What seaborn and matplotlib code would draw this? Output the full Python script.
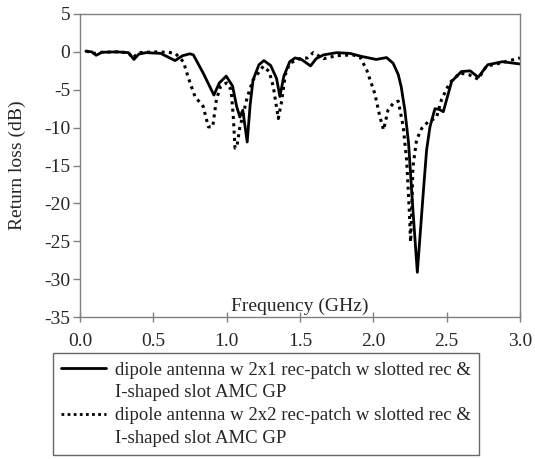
import matplotlib
matplotlib.use("Agg")
import matplotlib.pyplot as plt
import seaborn as sns
import pandas as pd
from matplotlib.lines import Line2D

# ---- data ----
freq_2x1 = [0.04, 0.08, 0.11, 0.15, 0.25, 0.33, 0.368, 0.40, 0.45, 0.55, 0.648, 0.70, 0.75,
            0.773, 0.84, 0.913, 0.95, 0.997, 1.04, 1.068, 1.09, 1.11, 1.14, 1.16, 1.18, 1.22,
            1.254, 1.30, 1.34, 1.363, 1.39, 1.43, 1.466, 1.51, 1.572, 1.61, 1.66, 1.75, 1.84,
            1.92, 2.02, 2.09, 2.135, 2.17, 2.19, 2.215, 2.24, 2.27, 2.30, 2.34, 2.363, 2.386,
            2.42, 2.45, 2.477, 2.534, 2.60, 2.66, 2.715, 2.78, 2.88, 3.0]
rl_2x1 = [0.1, 0.0, -0.45, -0.05, 0.0, -0.1, -1.0, -0.3, -0.1, -0.2, -1.15, -0.5, -0.25,
          -0.4, -2.8, -5.7, -4.1, -3.2, -4.5, -7.2, -8.6, -7.7, -11.9, -7.0, -3.7, -1.7,
          -1.15, -1.8, -3.5, -5.9, -3.2, -1.3, -0.8, -1.0, -1.85, -0.9, -0.4, -0.1, -0.2,
          -0.6, -1.0, -0.75, -1.5, -3.0, -4.6, -7.7, -12.0, -20.9, -29.1, -18.7, -13.0, -9.9,
          -7.5, -7.6, -7.9, -3.9, -2.6, -2.5, -3.35, -1.7, -1.3, -1.6]

freq_2x2 = [0.04, 0.10, 0.15, 0.25, 0.33, 0.36, 0.40, 0.50, 0.60, 0.65, 0.705, 0.74, 0.784,
            0.84, 0.875, 0.905, 0.93, 0.96, 1.0, 1.03, 1.045, 1.057, 1.07, 1.09, 1.11, 1.14,
            1.18, 1.25, 1.29, 1.318, 1.352, 1.375, 1.40, 1.43, 1.50, 1.55, 1.59, 1.66, 1.75,
            1.86, 1.91, 1.955, 2.01, 2.045, 2.07, 2.10, 2.135, 2.17, 2.204, 2.227, 2.245, 2.254,
            2.262, 2.27, 2.295, 2.33, 2.375, 2.43, 2.465, 2.52, 2.59, 2.65, 2.715, 2.77, 2.86, 3.0]
rl_2x2 = [0.1, -0.2, -0.05, 0.0, -0.1, -0.8, -0.1, 0.0, -0.05, -0.2, -1.3, -3.5, -5.9,
          -7.2, -9.9, -9.9, -6.3, -4.5, -4.1, -5.0, -8.5, -12.7, -12.5, -9.9, -8.5, -6.0,
          -3.7, -1.9, -2.6, -4.6, -8.8, -6.5, -3.0, -1.5, -0.9, -0.8, -0.1, -0.9, -0.5,
          -0.4, -0.7, -2.4, -5.5, -8.6, -10.3, -7.7, -6.8, -6.5, -9.9, -14.3, -20.9, -25.1,
          -21.0, -15.2, -11.6, -10.1, -9.2, -8.7, -6.3, -4.1, -2.8, -3.0, -3.6, -1.9, -1.5, -0.8]

label_a1 = "dipole antenna w 2x1 rec-patch w slotted rec &"
label_b1 = "dipole antenna w 2x2 rec-patch w slotted rec &"
label_2 = "I-shaped slot AMC GP"
x_ticks = [0.0, 0.5, 1.0, 1.5, 2.0, 2.5, 3.0]
y_ticks = [5, 0, -5, -10, -15, -20, -25, -30, -35]

sns.set_style("white")
plt.rcParams["font.family"] = ["Liberation Serif", "DejaVu Serif"]
FS = 14

fig = plt.figure(figsize=(5.35, 4.59), dpi=100)
ax = fig.add_axes([80/535, 1-317/459, 440/535, 303/459])

df1 = pd.DataFrame({"f": freq_2x1, "rl": rl_2x1})
df2 = pd.DataFrame({"f": freq_2x2, "rl": rl_2x2})
sns.lineplot(data=df1, x="f", y="rl", ax=ax, color="black", linewidth=2.0, sort=False)
sns.lineplot(data=df2, x="f", y="rl", ax=ax, color="black", linewidth=2.2, sort=False,
             linestyle=(0, (1, 1.4)))

ax.set_xlim(0, 3)
ax.set_ylim(-35, 5)
ax.set_xticks(x_ticks)
ax.set_xticklabels([f"{v:.1f}" for v in x_ticks])
ax.set_yticks(y_ticks)
ax.set_yticklabels([str(v) for v in y_ticks])
ax.set_xlabel("")
ax.set_ylabel("Return loss (dB)", fontsize=FS)
ax.yaxis.set_label_coords(-0.122, 0.5)
ax.text(0.5, 0.006, "Frequency (GHz)", transform=ax.transAxes, ha="center", va="bottom",
        fontsize=FS)

for s in ax.spines.values():
    s.set_color("#808080")
    s.set_linewidth(1.0)
ax.tick_params(axis="y", direction="out", length=5, width=1, color="#808080",
               labelsize=FS, pad=2, left=True)
ax.tick_params(axis="x", direction="inout", length=7, width=1, color="#808080",
               labelsize=FS, pad=8, bottom=True)

handles = [Line2D([], [], color="black", linewidth=2.0),
           Line2D([], [], color="none"),
           Line2D([], [], color="black", linewidth=2.0, linestyle=(0, (1, 1.2))),
           Line2D([], [], color="none")]
labels = [label_a1, label_2, label_b1, label_2]
leg = fig.legend(handles, labels, loc="upper left", bbox_to_anchor=(53/535, 1-353/459),
                 frameon=True, fancybox=False, fontsize=13.5, handlelength=2.4,
                 handletextpad=0.45, labelspacing=0.3, borderpad=0.45, borderaxespad=0)
leg.get_frame().set_edgecolor("#404040")
leg.get_frame().set_linewidth(1.0)

fig.savefig("out.png", dpi=100)
